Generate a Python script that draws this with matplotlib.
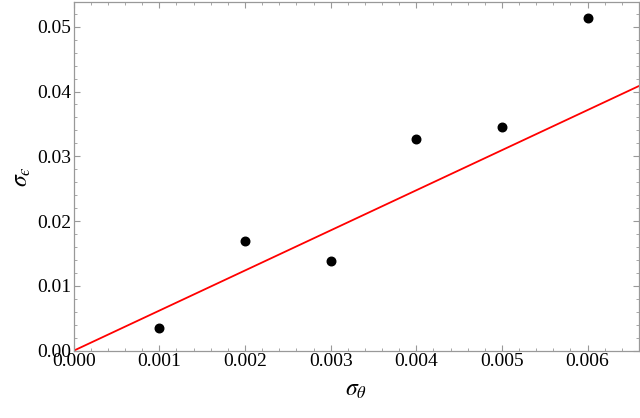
import numpy as np
import matplotlib
matplotlib.use("Agg")
from matplotlib import pyplot as plt
from matplotlib.ticker import MultipleLocator

# data
sigma_theta = [0.001, 0.002, 0.003, 0.004, 0.005, 0.006]
sigma_eps = [0.0035, 0.0169, 0.0139, 0.0327, 0.0345, 0.0513]
slope = 6.19  # red reference line through origin

plt.rcParams['font.family'] = ['Liberation Serif', 'DejaVu Serif']
plt.rcParams['mathtext.fontset'] = 'stix'

fig = plt.figure(figsize=(6.4, 4.18), dpi=100)
ax = fig.add_axes([73.7 / 640, (418 - 350.7) / 418, (639 - 73.7) / 640, (350.7 - 1.7) / 418])

xmax = 0.0066
ymax = 0.05386
xs = np.array([0, xmax])
ax.plot(xs, slope * xs, color='red', lw=1.3, zorder=2)
ax.scatter(sigma_theta, sigma_eps, s=38, color='black', zorder=3)

ax.set_xlim(0, xmax)
ax.set_ylim(0, ymax)
ax.set_xticks([0.000, 0.001, 0.002, 0.003, 0.004, 0.005, 0.006])
ax.set_xticklabels(['0.000', '0.001', '0.002', '0.003', '0.004', '0.005', '0.006'])
ax.set_yticks([0.00, 0.01, 0.02, 0.03, 0.04, 0.05])
ax.set_yticklabels(['0.00', '0.01', '0.02', '0.03', '0.04', '0.05'])
ax.xaxis.set_minor_locator(MultipleLocator(0.0002))
ax.yaxis.set_minor_locator(MultipleLocator(0.002))

for s in ax.spines.values():
    s.set_color('#999999')
    s.set_linewidth(0.9)
ax.tick_params(which='both', direction='in', top=True, right=True, color='#999999',
               labelsize=14, labelcolor='black', pad=1.5)
ax.tick_params(which='major', length=4.5, width=0.8)
ax.tick_params(which='minor', length=2.5, width=0.6)

ax.set_xlabel(r'$\sigma_{\theta}$', fontsize=17, labelpad=7)
ax.set_ylabel('$\\sigma_{ϵ}$', fontsize=17, labelpad=3.5)

fig.savefig('out.png', dpi=100)
